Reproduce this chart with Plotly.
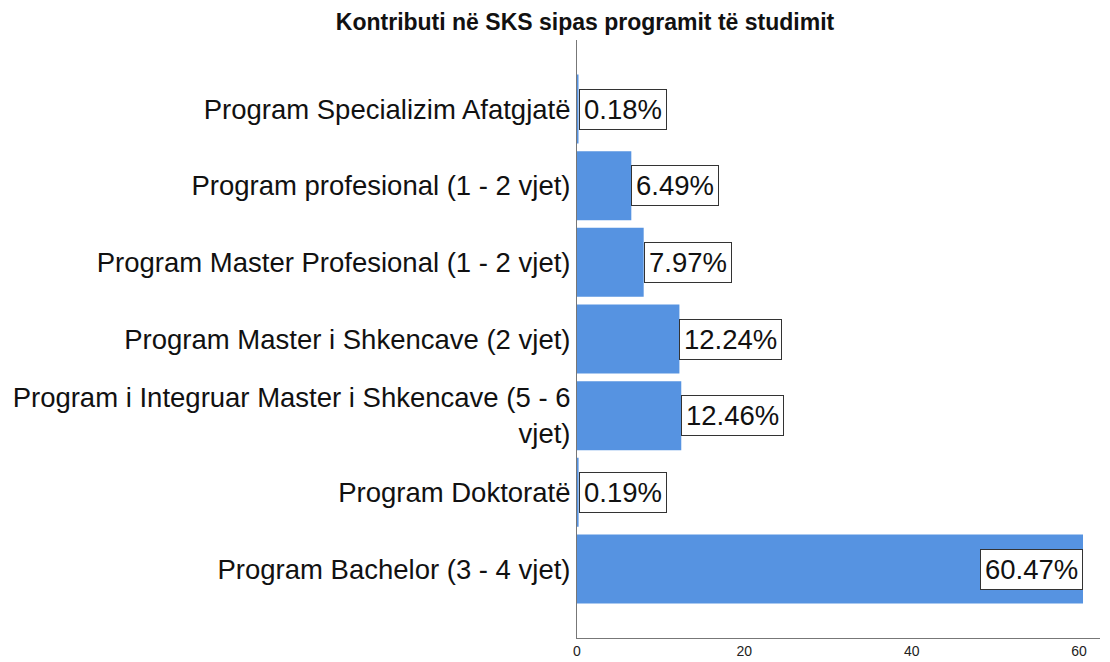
import plotly.graph_objects as go

categories = [
    "Program Bachelor (3 - 4 vjet)",
    "Program Doktoratë",
    "Program i Integruar Master i Shkencave (5 - 6<br>vjet)",
    "Program Master i Shkencave (2 vjet)",
    "Program Master Profesional (1 - 2 vjet)",
    "Program profesional (1 - 2 vjet)",
    "Program Specializim Afatgjatë",
]
values = [60.47, 0.19, 12.46, 12.24, 7.97, 6.49, 0.18]
value_labels = ["60.47%", "0.19%", "12.46%", "12.24%", "7.97%", "6.49%", "0.18%"]
x_ticks = [0, 20, 40, 60]

BAR_COLOR = "#5693E1"
FONT = "Liberation Sans, Arial, sans-serif"

fig = go.Figure()
fig.add_trace(go.Bar(
    x=values, y=categories, orientation="h",
    marker=dict(color=BAR_COLOR, line=dict(width=0)),
    hoverinfo="skip",
))

for v, c, lab in zip(values, categories, value_labels):
    inside = v > 40
    fig.add_annotation(
        x=v, y=c, xref="x", yref="y", text=lab, showarrow=False,
        xanchor="right" if inside else "left", yanchor="middle",
        font=dict(family=FONT, size=27.5, color="#111"),
        bgcolor="white", bordercolor="#333", borderwidth=1, borderpad=4,
    )

fig.update_layout(
    width=1110, height=662,
    margin=dict(l=577, r=10, t=40, b=24, autoexpand=False),
    paper_bgcolor="white", plot_bgcolor="white",
    bargap=0.1, showlegend=False,
    title=dict(text="<b>Kontributi në SKS sipas programit të studimit</b>",
               x=585 / 1110, xref="container", xanchor="center",
               y=1 - 22 / 662, yref="container", yanchor="middle",
               font=dict(family=FONT, size=23, color="#111")),
    xaxis=dict(range=[0, 62.5], tickvals=x_ticks, ticktext=[str(t) for t in x_ticks],
               showgrid=False, zeroline=False, showline=True, linecolor="#777", linewidth=1,
               automargin=False,
               tickfont=dict(family=FONT, size=14, color="#222"), ticks="", fixedrange=True),
    yaxis=dict(type="category", range=[-0.9, 6.9], showgrid=False, zeroline=False,
               showline=True, linecolor="#777", linewidth=1, ticks="",
               automargin=False, ticklabelstandoff=0,
               tickfont=dict(family=FONT, size=27.5, color="#111")),
)

fig.write_html(
    "out.html",
    config={"displayModeBar": False, "staticPlot": True},
    post_script="document.body.style.margin='0';document.body.style.overflow='hidden';",
)
